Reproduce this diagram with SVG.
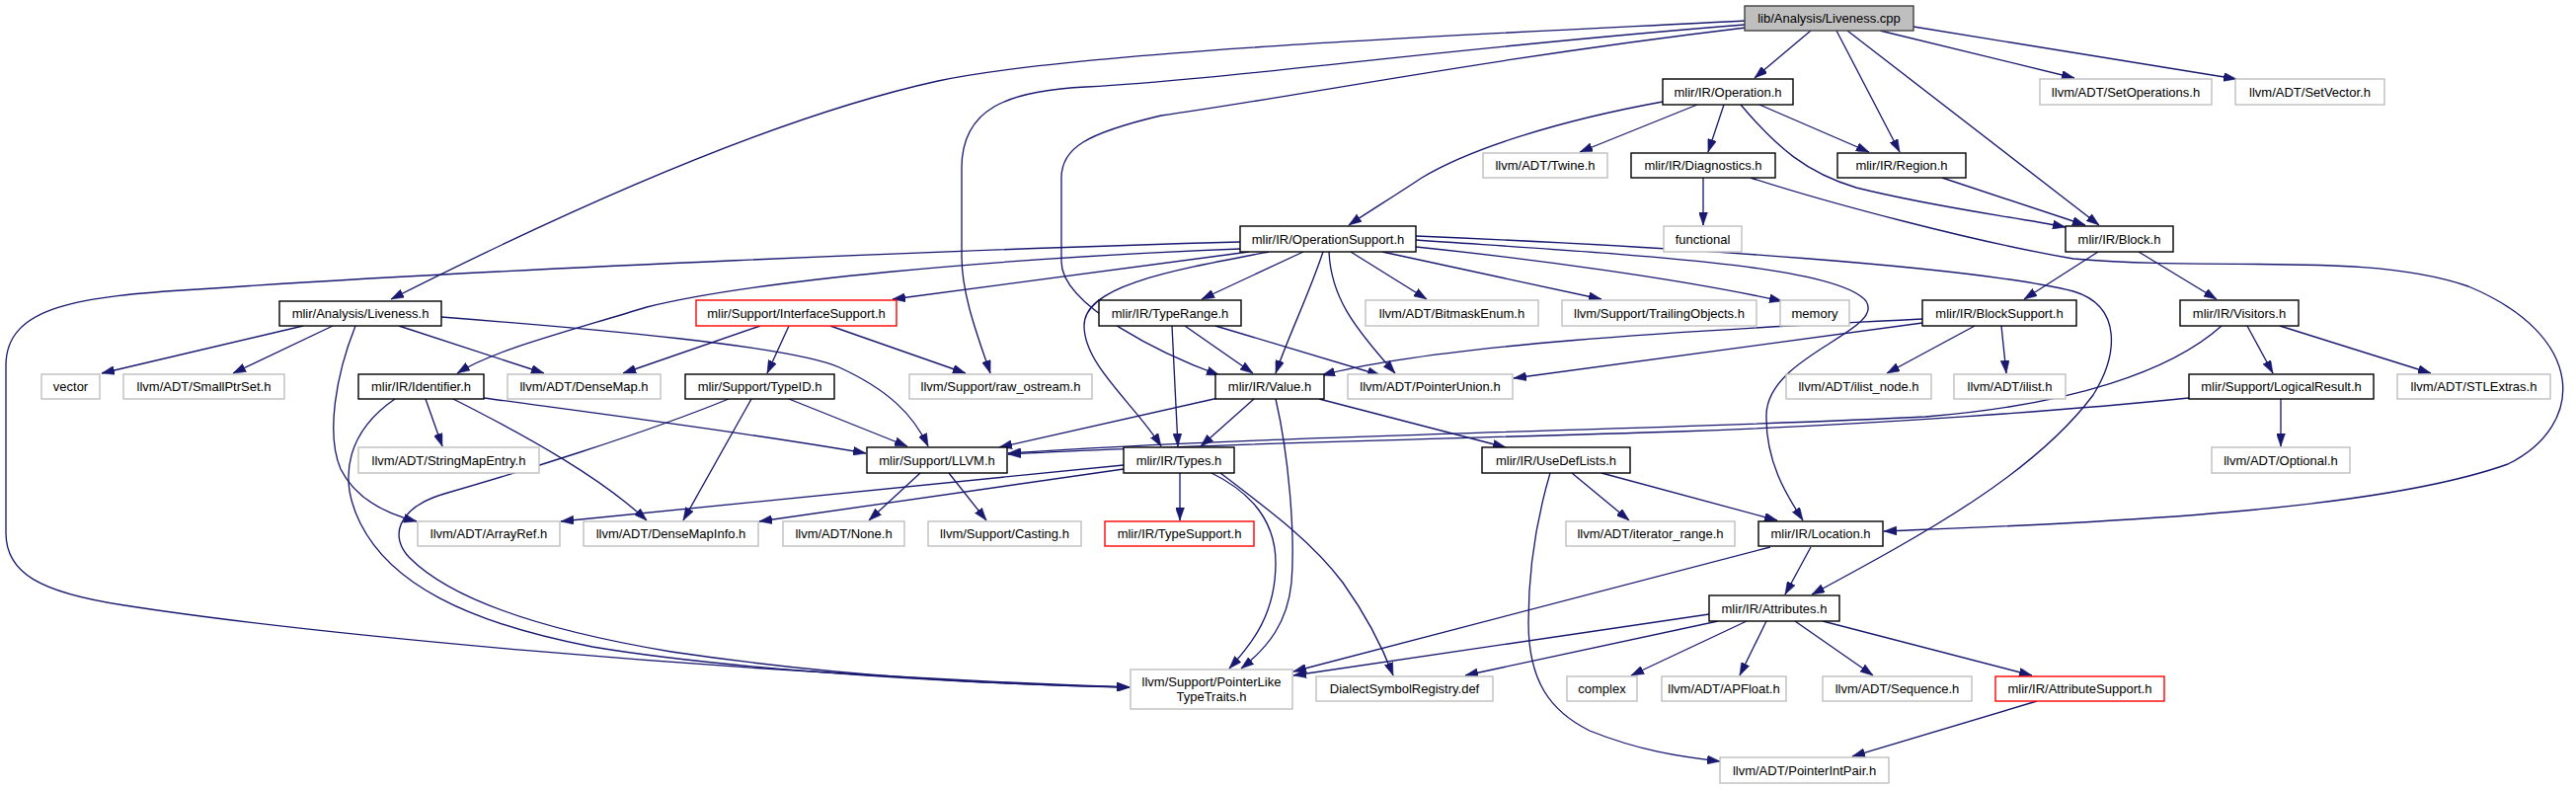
<svg xmlns="http://www.w3.org/2000/svg" width="2609" height="799" viewBox="0 0 2609 799">
<style>
rect{stroke-width:1.4}
.doc rect{fill:#fff;stroke:#000}
.ext rect{fill:#fff;stroke:#bfbfbf}
.red rect{fill:#fff;stroke:#ff0000}
.root rect{fill:#bfbfbf;stroke:#404040}
text{font-family:"Liberation Sans",Arial,Helvetica,sans-serif;font-size:13px;fill:#000;text-anchor:middle}
#edges path{fill:none;stroke:#191970;stroke-width:1.33;marker-end:url(#ah)}
</style>
<defs>
<marker id="ah" markerUnits="userSpaceOnUse" markerWidth="13" markerHeight="9" refX="13" refY="4.5" orient="auto" viewBox="0 0 13 9"><path d="M0,0 L13,4.5 L0,9 Z" fill="#191970" stroke="#191970" stroke-width="0.5"/></marker>
</defs>
<rect width="2609" height="799" fill="#fff"/>
<g id="edges">
<path d="M1768,21 C1560,32 1100,50 950,82 C800,115 600,200 396,303"/>
<path d="M1767,25 C1450,50 1250,80 1100,88 C1020,92 974,110 974,170 L974,260 C974,300 992,345 1003,378"/>
<path d="M1768,28 C1500,60 1300,100 1176,117 C1100,135 1075,150 1075,180 L1075,265 C1075,310 1180,360 1235,380"/>
<path d="M1834,31 L1777,79"/>
<path d="M1860,31 L1924,154"/>
<path d="M1871,31 L2126,228"/>
<path d="M1904,31 L2101,79"/>
<path d="M1938,27 L2265,80"/>
<path d="M1684,103 C1580,122 1490,150 1440,180 C1410,200 1385,215 1366,228"/>
<path d="M1719,106 L1600,154"/>
<path d="M1746,106 L1730,154"/>
<path d="M1782,106 L1893,154"/>
<path d="M1763,106 C1800,150 1830,175 1880,190 C1960,210 2030,218 2092,230"/>
<path d="M1967,180 L2112,228"/>
<path d="M1725,180 L1725,228"/>
<path d="M1773,180 C1850,205 2000,245 2100,262 C2250,275 2400,255 2500,290 C2620,340 2620,430 2540,470 C2400,520 2100,530 1908,538"/>
<path d="M2125,255 L2050,303"/>
<path d="M2166,255 L2245,303"/>
<path d="M1947,323 C1700,335 1450,350 1339,380"/>
<path d="M1947,327 L1533,383"/>
<path d="M2000,330 L1911,378"/>
<path d="M2027,330 L2032,378"/>
<path d="M1434,243 C1650,258 1860,268 1890,305 C1910,335 1790,360 1789,420 C1788,470 1812,505 1826,527"/>
<path d="M1434,239 C1700,250 2000,270 2100,295 C2150,310 2145,360 2120,400 C2060,480 1950,540 1835,602"/>
<path d="M1434,250 C1550,262 1700,282 1805,305"/>
<path d="M1400,255 L1622,303"/>
<path d="M1368,255 L1445,303"/>
<path d="M1346,255 C1348,300 1370,330 1413,378"/>
<path d="M1340,255 C1325,300 1305,340 1292,378"/>
<path d="M1285,255 C1180,275 1098,290 1098,330 C1098,370 1150,410 1176,452"/>
<path d="M1320,255 L1217,303"/>
<path d="M1265,255 L904,303"/>
<path d="M1256,252 C1000,262 760,285 655,311 C560,340 500,355 463,378"/>
<path d="M1256,245 C1000,252 500,272 200,293 C80,300 6,310 6,370 L6,540 C6,580 40,600 126,613 C300,640 700,680 1144,696"/>
<path d="M2250,330 C2200,375 2100,410 1950,422 C1700,435 1300,440 1021,459"/>
<path d="M2276,330 L2302,378"/>
<path d="M2309,330 L2462,378"/>
<path d="M2217,403 C2100,415 1900,430 1700,437 C1450,445 1200,450 1021,460"/>
<path d="M2310,404 L2310,452"/>
<path d="M307,330 L103,378"/>
<path d="M337,330 L236,378"/>
<path d="M360,330 C340,380 330,440 345,475 C360,505 390,520 422,528"/>
<path d="M404,330 L551,378"/>
<path d="M447,321 C600,333 800,350 850,372 C900,395 925,420 940,452"/>
<path d="M431,404 L448,452"/>
<path d="M459,404 C540,445 610,485 655,527"/>
<path d="M490,403 C600,418 750,437 877,459"/>
<path d="M400,404 C355,435 340,480 365,530 C395,590 470,630 600,655 C750,680 1000,693 1144,696"/>
<path d="M738,404 C650,440 520,480 450,500 C400,515 395,545 415,565 C460,610 560,640 680,660 C850,685 1000,693 1144,696"/>
<path d="M770,330 L631,378"/>
<path d="M799,330 L777,378"/>
<path d="M841,330 L978,378"/>
<path d="M799,404 L919,452"/>
<path d="M761,404 L692,527"/>
<path d="M932,479 L880,527"/>
<path d="M961,479 L999,527"/>
<path d="M1187,330 L1193,452"/>
<path d="M1200,330 L1269,378"/>
<path d="M1231,330 L1398,380"/>
<path d="M1234,403 L1012,453"/>
<path d="M1270,404 L1216,452"/>
<path d="M1336,404 L1525,453"/>
<path d="M1292,404 C1305,460 1312,540 1308,590 C1304,630 1285,655 1257,677"/>
<path d="M1138,471 L568,528"/>
<path d="M1138,475 L769,528"/>
<path d="M1195,479 L1195,527"/>
<path d="M1227,479 C1270,500 1292,530 1292,570 C1292,620 1270,650 1245,677"/>
<path d="M1236,479 C1290,520 1330,550 1360,590 C1385,625 1400,655 1411,684"/>
<path d="M1592,479 L1650,527"/>
<path d="M1622,479 L1800,527"/>
<path d="M1570,479 C1555,530 1548,580 1548,630 C1548,690 1570,720 1610,740 C1660,760 1700,766 1742,771"/>
<path d="M1793,554 L1310,680"/>
<path d="M1834,554 L1808,602"/>
<path d="M1731,622 L1310,684"/>
<path d="M1740,629 L1484,684"/>
<path d="M1769,629 L1652,684"/>
<path d="M1789,629 L1762,684"/>
<path d="M1818,629 L1897,684"/>
<path d="M1846,629 L2058,684"/>
<path d="M2063,710 L1876,766"/>
</g>
<g id="n0" class="root"><rect x="1767" y="6" width="171" height="25"/><text x="1852.5" y="23">lib/Analysis/Liveness.cpp</text></g>
<g id="n1" class="doc"><rect x="1684" y="80" width="132" height="26"/><text x="1750" y="97.5">mlir/IR/Operation.h</text></g>
<g id="n2" class="ext"><rect x="2066" y="80" width="174" height="26"/><text x="2153" y="97.5">llvm/ADT/SetOperations.h</text></g>
<g id="n3" class="ext"><rect x="2264" y="80" width="151" height="26"/><text x="2339.5" y="97.5">llvm/ADT/SetVector.h</text></g>
<g id="n4" class="ext"><rect x="1502" y="155" width="126" height="25"/><text x="1565" y="172">llvm/ADT/Twine.h</text></g>
<g id="n5" class="doc"><rect x="1652" y="155" width="146" height="25"/><text x="1725" y="172">mlir/IR/Diagnostics.h</text></g>
<g id="n6" class="doc"><rect x="1861" y="155" width="130" height="25"/><text x="1926" y="172">mlir/IR/Region.h</text></g>
<g id="n7" class="doc"><rect x="1256" y="229" width="178" height="26"/><text x="1345" y="246.5">mlir/IR/OperationSupport.h</text></g>
<g id="n8" class="ext"><rect x="1685" y="229" width="79" height="26"/><text x="1724.5" y="246.5">functional</text></g>
<g id="n9" class="doc"><rect x="2092" y="229" width="109" height="26"/><text x="2146.5" y="246.5">mlir/IR/Block.h</text></g>
<g id="n10" class="doc"><rect x="283" y="305" width="164" height="25"/><text x="365" y="322">mlir/Analysis/Liveness.h</text></g>
<g id="n11" class="red"><rect x="705" y="304" width="203" height="26"/><text x="806.5" y="321.5">mlir/Support/InterfaceSupport.h</text></g>
<g id="n12" class="doc"><rect x="1113" y="304" width="144" height="26"/><text x="1185" y="321.5">mlir/IR/TypeRange.h</text></g>
<g id="n13" class="ext"><rect x="1383" y="304" width="175" height="26"/><text x="1470.5" y="321.5">llvm/ADT/BitmaskEnum.h</text></g>
<g id="n14" class="ext"><rect x="1582" y="304" width="197" height="26"/><text x="1680.5" y="321.5">llvm/Support/TrailingObjects.h</text></g>
<g id="n15" class="ext"><rect x="1803" y="304" width="70" height="26"/><text x="1838" y="321.5">memory</text></g>
<g id="n16" class="doc"><rect x="1947" y="304" width="156" height="26"/><text x="2025" y="321.5">mlir/IR/BlockSupport.h</text></g>
<g id="n17" class="doc"><rect x="2208" y="304" width="120" height="26"/><text x="2268" y="321.5">mlir/IR/Visitors.h</text></g>
<g id="n18" class="ext"><rect x="42" y="379" width="59" height="25"/><text x="71.5" y="396">vector</text></g>
<g id="n19" class="ext"><rect x="125" y="379" width="163" height="25"/><text x="206.5" y="396">llvm/ADT/SmallPtrSet.h</text></g>
<g id="n20" class="doc"><rect x="363" y="379" width="127" height="25"/><text x="426.5" y="396">mlir/IR/Identifier.h</text></g>
<g id="n21" class="ext"><rect x="514" y="379" width="155" height="25"/><text x="591.5" y="396">llvm/ADT/DenseMap.h</text></g>
<g id="n22" class="doc"><rect x="694" y="379" width="151" height="25"/><text x="769.5" y="396">mlir/Support/TypeID.h</text></g>
<g id="n23" class="ext"><rect x="921" y="379" width="185" height="25"/><text x="1013.5" y="396">llvm/Support/raw_ostream.h</text></g>
<g id="n24" class="doc"><rect x="1231" y="379" width="110" height="25"/><text x="1286" y="396">mlir/IR/Value.h</text></g>
<g id="n25" class="ext"><rect x="1365" y="379" width="167" height="25"/><text x="1448.5" y="396">llvm/ADT/PointerUnion.h</text></g>
<g id="n26" class="ext"><rect x="1809" y="379" width="147" height="25"/><text x="1882.5" y="396">llvm/ADT/ilist_node.h</text></g>
<g id="n27" class="ext"><rect x="1979" y="379" width="113" height="25"/><text x="2035.5" y="396">llvm/ADT/ilist.h</text></g>
<g id="n28" class="doc"><rect x="2217" y="379" width="187" height="25"/><text x="2310.5" y="396">mlir/Support/LogicalResult.h</text></g>
<g id="n29" class="ext"><rect x="2428" y="379" width="155" height="25"/><text x="2505.5" y="396">llvm/ADT/STLExtras.h</text></g>
<g id="n30" class="ext"><rect x="363" y="453" width="183" height="26"/><text x="454.5" y="470.5">llvm/ADT/StringMapEntry.h</text></g>
<g id="n31" class="doc"><rect x="878" y="453" width="142" height="26"/><text x="949" y="470.5">mlir/Support/LLVM.h</text></g>
<g id="n32" class="doc"><rect x="1138" y="453" width="112" height="26"/><text x="1194" y="470.5">mlir/IR/Types.h</text></g>
<g id="n33" class="doc"><rect x="1501" y="453" width="150" height="26"/><text x="1576" y="470.5">mlir/IR/UseDefLists.h</text></g>
<g id="n34" class="ext"><rect x="2240" y="453" width="140" height="26"/><text x="2310" y="470.5">llvm/ADT/Optional.h</text></g>
<g id="n35" class="ext"><rect x="423" y="528" width="144" height="25"/><text x="495" y="545">llvm/ADT/ArrayRef.h</text></g>
<g id="n36" class="ext"><rect x="591" y="528" width="177" height="25"/><text x="679.5" y="545">llvm/ADT/DenseMapInfo.h</text></g>
<g id="n37" class="ext"><rect x="793" y="528" width="123" height="25"/><text x="854.5" y="545">llvm/ADT/None.h</text></g>
<g id="n38" class="ext"><rect x="940" y="528" width="155" height="25"/><text x="1017.5" y="545">llvm/Support/Casting.h</text></g>
<g id="n39" class="red"><rect x="1119" y="528" width="151" height="25"/><text x="1194.5" y="545">mlir/IR/TypeSupport.h</text></g>
<g id="n40" class="ext"><rect x="1586" y="528" width="171" height="25"/><text x="1671.5" y="545">llvm/ADT/iterator_range.h</text></g>
<g id="n41" class="doc"><rect x="1781" y="528" width="126" height="25"/><text x="1844" y="545">mlir/IR/Location.h</text></g>
<g id="n42" class="doc"><rect x="1731" y="603" width="132" height="26"/><text x="1797" y="620.5">mlir/IR/Attributes.h</text></g>
<g id="n43" class="ext"><rect x="1145" y="678" width="164" height="40"/><text x="1227" y="695">llvm/Support/PointerLike</text><text x="1227" y="709.5">TypeTraits.h</text></g>
<g id="n44" class="ext"><rect x="1333" y="685" width="179" height="25"/><text x="1422.5" y="702">DialectSymbolRegistry.def</text></g>
<g id="n45" class="ext"><rect x="1587" y="685" width="71" height="25"/><text x="1622.5" y="702">complex</text></g>
<g id="n46" class="ext"><rect x="1683" y="685" width="126" height="25"/><text x="1746" y="702">llvm/ADT/APFloat.h</text></g>
<g id="n47" class="ext"><rect x="1846" y="685" width="151" height="25"/><text x="1921.5" y="702">llvm/ADT/Sequence.h</text></g>
<g id="n48" class="red"><rect x="2021" y="685" width="171" height="25"/><text x="2106.5" y="702">mlir/IR/AttributeSupport.h</text></g>
<g id="n49" class="ext"><rect x="1742" y="767" width="171" height="26"/><text x="1827.5" y="784.5">llvm/ADT/PointerIntPair.h</text></g>
</svg>
